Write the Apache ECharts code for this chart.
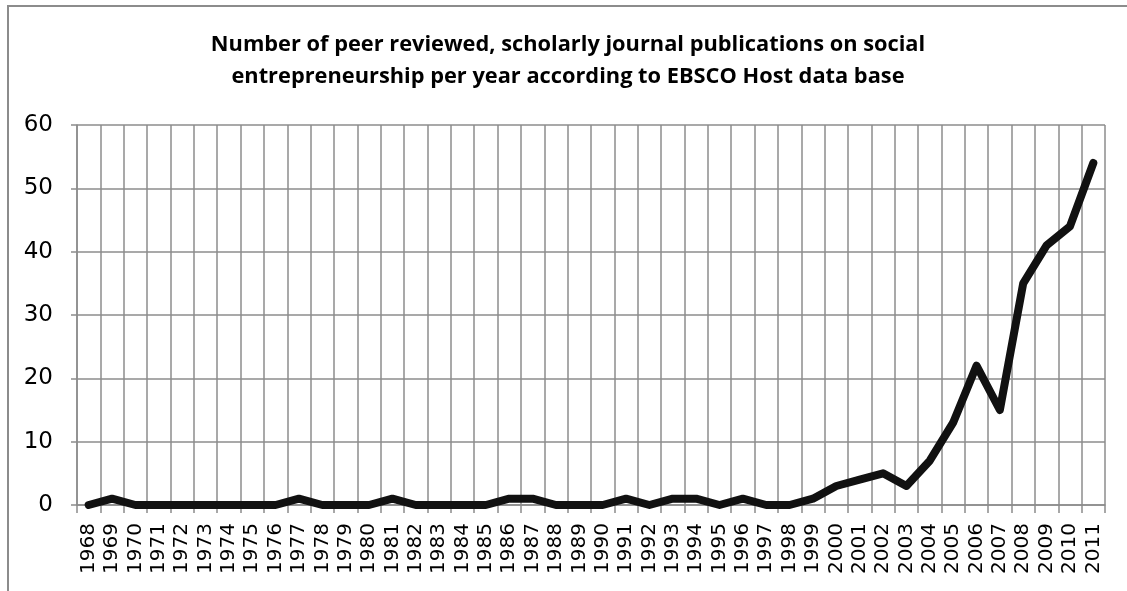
<!DOCTYPE html>
<html>
<head>
<meta charset="utf-8">
<script src="https://cdn.jsdelivr.net/npm/echarts@6/dist/echarts.min.js"></script>
<style>
  html, body { margin: 0; padding: 0; background: #fff; }
  #frame { position: absolute; left: 7px; top: 5px; right: 0; bottom: 0; border-left: 2px solid #8c8c8c; border-top: 2px solid #8c8c8c; }
  #chart { position: absolute; left: 0; top: 0; width: 1127px; height: 591px; }
</style>
</head>
<body>
<div id="frame"></div>
<div id="chart"></div>
<script>
// 数据：每年的期刊论文数量
const years = ['1968','1969','1970','1971','1972','1973','1974','1975','1976','1977','1978','1979','1980','1981','1982','1983','1984','1985','1986','1987','1988','1989','1990','1991','1992','1993','1994','1995','1996','1997','1998','1999','2000','2001','2002','2003','2004','2005','2006','2007','2008','2009','2010','2011'];
const publications = [0,1,0,0,0,0,0,0,0,1,0,0,0,1,0,0,0,0,1,1,0,0,0,1,0,1,1,0,1,0,0,1,3,4,5,3,7,13,22,15,35,41,44,54];
const yTicks = { min: 0, max: 60, interval: 10 };
const titleText = 'Number of peer reviewed, scholarly journal publications on social\nentrepreneurship per year according to EBSCO Host data base';

const gridColor = '#8c8c8c';
const chart = echarts.init(document.getElementById('chart'));
const option = {
    animation: false,
    title: {
        text: titleText, left: 563, top: 24, textAlign: 'center',
        textStyle: { fontFamily: 'Open Sans', fontWeight: 'bold', fontSize: 21.8, lineHeight: 32, color: '#000', align: 'center' }
    },
    grid: { left: 77, right: 22, top: 125, bottom: 86 },
    xAxis: {
        type: 'category', data: years, boundaryGap: true,
        axisLine: { lineStyle: { color: gridColor, width: 1.5 } },
        axisTick: { show: true, interval: 0, length: 8, lineStyle: { color: gridColor, width: 1.5 } },
        axisLabel: { interval: 0, rotate: 90, margin: 18, fontFamily: 'DejaVu Sans', fontSize: 20, color: '#000' },
        splitLine: { show: true, interval: 0, lineStyle: { color: gridColor, width: 1.5 } }
    },
    yAxis: {
        type: 'value', min: yTicks.min, max: yTicks.max, interval: yTicks.interval,
        axisLine: { show: true, lineStyle: { color: gridColor, width: 1.5 } },
        axisTick: { show: true, length: 6, lineStyle: { color: gridColor, width: 1.5 } },
        axisLabel: { margin: 24, fontFamily: 'DejaVu Sans', fontSize: 23, color: '#000' },
        splitLine: { show: true, lineStyle: { color: gridColor, width: 1.5 } }
    },
    series: [{
        type: 'line', data: publications, showSymbol: false, symbol: 'none',
        lineStyle: { color: '#111', width: 8, cap: 'round', join: 'round' }
    }]
};
chart.setOption(option);
window.addEventListener('resize', () => chart.resize());
</script>
</body>
</html>
